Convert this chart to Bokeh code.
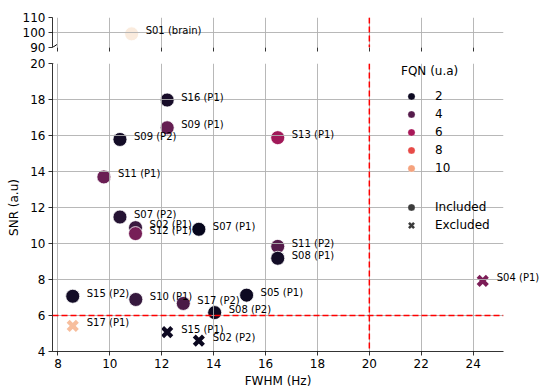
import numpy as np
from bokeh.plotting import figure
from bokeh.models import (ColumnDataSource, Range1d, Span, Legend, LegendItem,
                          LinearColorMapper, FixedTicker, Arrow, CustomJSTickFormatter)
from bokeh.layouts import column
from bokeh.transform import transform
from bokeh.core.properties import value
from bokeh.embed import file_html
from bokeh.resources import INLINE

# ---------------- data ----------------
names = ["S01 (brain)", "S16 (P1)", "S09 (P1)", "S09 (P2)", "S13 (P1)", "S11 (P1)",
         "S07 (P2)", "S02 (P1)", "S12 (P1)", "S07 (P1)", "S11 (P2)", "S08 (P1)",
         "S15 (P2)", "S10 (P1)", "S17 (P2)", "S05 (P1)", "S08 (P2)",
         "S17 (P1)", "S15 (P1)", "S02 (P2)", "S04 (P1)"]
fwhm = [10.84, 12.21, 12.21, 10.39, 16.47, 9.77,
        10.39, 10.99, 10.99, 13.43, 16.47, 16.47,
        8.57, 11.00, 12.83, 15.27, 14.04,
        8.57, 12.21, 13.43, 24.37]
snr = [99.1, 17.97, 16.43, 15.78, 15.88, 13.70,
       11.47, 10.88, 10.55, 10.79, 9.84, 9.18,
       7.07, 6.89, 6.67, 7.13, 6.16,
       5.42, 5.08, 4.60, 7.92]
fqn = [11.9, 2.3, 4.35, 2.2, 5.8, 4.45,
       2.7, 3.3, 4.8, 1.8, 3.95, 2.2,
       2.2, 3.2, 3.7, 2.0, 2.0,
       10.7, 2.0, 1.9, 4.9]
status = ["Included"] * 17 + ["Excluded"] * 4
legend_fqn = [2, 4, 6, 8, 10]
x_ticks = [8, 10, 12, 14, 16, 18, 20, 22, 24]
y_ticks_low = [4, 6, 8, 10, 12, 14, 16, 18, 20]
y_ticks_high = [90, 100, 110]
fwhm_limit = 20
snr_limit = 6

# ---------------- style: rocket-like palette ----------------
anchors = [(0.0, "#03051a"), (0.143, "#35193e"), (0.286, "#701f57"), (0.429, "#ad1759"),
           (0.5, "#cb1b4f"), (0.571, "#e13342"), (0.714, "#f37651"), (0.857, "#f6b48f"),
           (1.0, "#faebdd")]
pos = np.array([a[0] for a in anchors])
rgb = np.array([[int(h[i:i + 2], 16) for i in (1, 3, 5)] for _, h in anchors], dtype=float)
tt = np.linspace(0, 1, 256)
pal = ["#%02x%02x%02x" % tuple(int(round(np.interp(t, pos, rgb[:, k]))) for k in range(3)) for t in tt]
mapper = LinearColorMapper(palette=pal, low=1.7, high=11.9)

FONT = "DejaVu Sans"

df = dict(x=fwhm, y=snr, fqn=fqn, name=names, status=status)
def subset(cond):
    idx = [i for i in range(len(names)) if cond(i)]
    return ColumnDataSource({k: [v[i] for i in idx] for k, v in df.items()})

src_top = subset(lambda i: snr[i] > 50)
src_inc = subset(lambda i: snr[i] <= 50 and status[i] == "Included")
src_exc = subset(lambda i: snr[i] <= 50 and status[i] == "Excluded")
src_lab = subset(lambda i: snr[i] <= 50)

xr = Range1d(7.79, 25.17)

def style(p):
    p.outline_line_color = None
    p.background_fill_color = "white"
    p.border_fill_color = "white"
    for g in (p.xgrid, p.ygrid):
        g.grid_line_color = "#b0b0b0"
        g.grid_line_width = 0.9
        g.level = "glyph"
    for ax in (p.xaxis, p.yaxis):
        ax.major_tick_out = 4
        ax.major_tick_in = 0
        ax.minor_tick_line_color = None
        ax.major_tick_line_color = "black"
        ax.major_tick_line_width = 0.8
        ax.axis_line_color = "black"
        ax.axis_line_width = 0.8
        ax.major_label_text_font = FONT
        ax.major_label_text_font_size = "12px"
        ax.major_label_text_color = "black"
        ax.major_label_standoff = 3
        ax.axis_label_text_font = FONT
        ax.axis_label_text_font_size = "12px"
        ax.axis_label_text_font_style = "normal"
        ax.axis_label_text_color = "black"

# ---------------- top panel ----------------
top = figure(width=539, height=55, x_range=xr, y_range=Range1d(90, 110),
             output_backend="svg", toolbar_location=None,
             min_border_left=52, min_border_right=36, min_border_top=17, min_border_bottom=8)
style(top)
top.xaxis.ticker = FixedTicker(ticks=x_ticks)
top.yaxis.ticker = FixedTicker(ticks=y_ticks_high)
top.xaxis.formatter = CustomJSTickFormatter(code="return '';")
top.xaxis.major_label_standoff = 0
top.xaxis.axis_line_color = None
top.scatter("x", "y", source=src_top, size=14, marker="circle",
            fill_color=transform("fqn", mapper), line_color="white", line_width=0.8)
top.text("x", "y", text="name", source=src_top, x_offset=14, y_offset=-3,
         text_font=value(FONT), text_font_size="10px", text_baseline="middle",
         text_color="black", level="annotation")
top.add_layout(Span(location=fwhm_limit, dimension="height", line_color="red",
                    line_dash="6 3", line_width=1.5))
top.add_layout(Arrow(end=None, x_start=xr.start - 0.17, y_start=90 - 2.0,
                     x_end=xr.start + 0.17, y_end=90 + 2.0,
                     line_color="black", line_width=1))

# ---------------- bottom panel ----------------
bot = figure(width=539, height=335, x_range=xr, y_range=Range1d(4, 20),
             output_backend="svg", toolbar_location=None,
             min_border_left=52, min_border_right=36, min_border_top=8, min_border_bottom=36)
style(bot)
bot.xaxis.ticker = FixedTicker(ticks=x_ticks)
bot.yaxis.ticker = FixedTicker(ticks=y_ticks_low)
bot.xaxis.axis_label = "FWHM (Hz)"
bot.yaxis.axis_label = "SNR (a.u)"
bot.xaxis.axis_label_standoff = 3
bot.yaxis.axis_label_standoff = 6

bot.scatter("x", "y", source=src_inc, size=14, marker="circle",
            fill_color=transform("fqn", mapper), line_color="white", line_width=0.8)
bot.scatter("x", "y", source=src_exc, size=13, marker="x",
            line_color=transform("fqn", mapper), line_width=4.2)
bot.text("x", "y", text="name", source=src_lab, x_offset=14, y_offset=-3,
         text_font=value(FONT), text_font_size="10px", text_baseline="middle",
         text_color="black", level="annotation")
bot.add_layout(Span(location=fwhm_limit, dimension="height", line_color="red",
                    line_dash="6 3", line_width=1.5))
bot.add_layout(Span(location=snr_limit, dimension="width", line_color="red",
                    line_dash="6 3", line_width=1.5))
bot.add_layout(Arrow(end=None, x_start=xr.start - 0.17, y_start=20 - 0.14,
                     x_end=xr.start + 0.17, y_end=20 + 0.14,
                     line_color="black", line_width=1))

# legend proxies (NaN positions, never drawn in the plot area)
nan = float("nan")
leg_src = ColumnDataSource(dict(x=[nan] * len(legend_fqn), y=[nan] * len(legend_fqn),
                                fqn=legend_fqn))
r_leg = bot.scatter("x", "y", source=leg_src, marker="circle", size=8,
                    fill_color=transform("fqn", mapper), line_color="white", line_width=0.3)
proxy = ColumnDataSource(dict(x=[nan], y=[nan]))
r_inc = bot.scatter("x", "y", source=proxy, marker="circle", fill_color="#3b3b3b",
                    line_color="white", line_width=0.3)
r_exc = bot.scatter("x", "y", source=proxy, marker="x", line_color="#3b3b3b", line_width=2.6)

def legend_common(lg):
    lg.label_text_font = FONT
    lg.label_text_font_size = "12px"
    lg.label_text_color = "black"
    lg.glyph_width = 20
    lg.glyph_height = 18
    lg.label_height = 18
    lg.label_standoff = 14
    lg.spacing = 0
    lg.padding = 0
    lg.margin = 0
    lg.border_line_color = None
    lg.background_fill_alpha = 0

leg1 = Legend(items=[LegendItem(label=str(v), renderers=[r_leg], index=i)
                     for i, v in enumerate(legend_fqn)],
              location=(349, 174), title="FQN (u.a)")
legend_common(leg1)
leg1.title_text_font = FONT
leg1.title_text_font_size = "12px"
leg1.title_text_font_style = "normal"
leg1.title_text_color = "black"
leg1.title_standoff = 9
leg2 = Legend(items=[LegendItem(label="Included", renderers=[r_inc], index=0),
                     LegendItem(label="Excluded", renderers=[r_exc], index=0)],
              location=(349, 117))
legend_common(leg2)
bot.add_layout(leg1, "center")
bot.add_layout(leg2, "center")

layout = column(top, bot, spacing=0)
open("out.html", "w").write(file_html(layout, INLINE))
